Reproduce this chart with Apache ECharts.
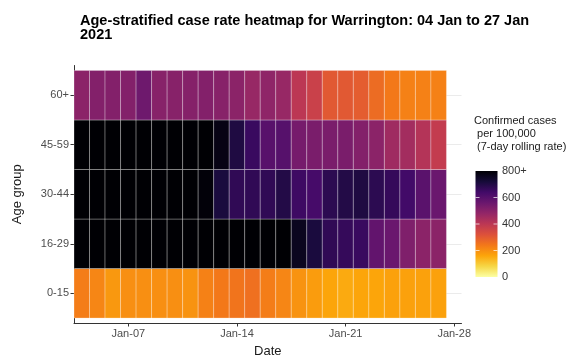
<!DOCTYPE html>
<html>
<head>
<meta charset="utf-8">
<script src="https://cdn.jsdelivr.net/npm/echarts@6/dist/echarts.min.js"></script>
<style>
html,body{margin:0;padding:0;background:#fff;}
#chart{width:571px;height:363px;}
</style>
</head>
<body>
<div id="chart"></div>
<script>
// Day of January 2021 for each column
var days = [4,5,6,7,8,9,10,11,12,13,14,15,16,17,18,19,20,21,22,23,24,25,26,27];
// Age groups, bottom to top
var ageGroups = ['0-15','16-29','30-44','45-59','60+'];
// 7-day rolling case rate per 100,000 (800 = "800+", shown black)
var rate0_15  = [232,216,184,200,200,200,200,192,224,240,248,256,232,216,192,176,160,152,160,160,168,168,168,168];
var rate16_29 = [800,800,800,800,800,800,800,800,800,800,800,800,800,800,760,712,672,664,656,576,560,520,496,496];
var rate30_44 = [800,800,800,800,800,800,800,800,792,712,672,672,672,696,648,632,680,696,704,680,664,640,592,560];
var rate45_59 = [800,800,800,800,800,800,800,800,800,776,704,656,596,600,536,528,528,528,512,496,456,448,416,384];
var rate60p   = [496,512,512,512,552,504,504,508,512,504,496,472,488,472,400,368,304,304,296,264,240,224,224,224];
// x-axis ticks
var tickDays = [7,14,21,28];
var tickLabels = ['Jan-07','Jan-14','Jan-21','Jan-28'];
// legend
var legendTicks = [0,200,400,600,800];
var legendLabels = ['0','200','400','600','800+'];
var scaleMax = 800;

var inferno = ['#000004','#160b39','#420a68','#6a176e','#932667','#bc3754','#dd513a','#f37819','#fca50a','#f6d746','#fcffa4'];
var colorsLowToHigh = inferno.slice().reverse();

var rows = [rate0_15, rate16_29, rate30_44, rate45_59, rate60p];
var data = [];
rows.forEach(function(arr, gi){
  arr.forEach(function(v, di){
    data.push([days[di], gi + 1, Math.min(v, scaleMax)]);
  });
});

var chart = echarts.init(document.getElementById('chart'), null, {renderer:'canvas'});

var FONT = '"Liberation Sans", Arial, sans-serif';
// legend geometry
var barX = 475.5, barY = 171, barW = 22, barH = 106;
var stops = inferno.map(function(c, i){ return {offset: i/(inferno.length-1), color: c}; });
var legendEls = [
  {type:'text', left: 474, top: 114, style:{text:'Confirmed cases\n per 100,000\n (7-day rolling rate)', font:'11px ' + FONT, fill:'#1a1a1a', lineHeight:13}},
  {type:'rect', shape:{x:barX, y:barY, width:barW, height:barH}, style:{fill:{type:'linear', x:0, y:0, x2:0, y2:1, colorStops:stops}}}
];
legendTicks.forEach(function(t, i){
  var y = barY + barH - t / scaleMax * barH;
  if (t > 0 && t < scaleMax) {
    legendEls.push({type:'line', shape:{x1:barX, y1:y, x2:barX+4, y2:y}, style:{stroke:'rgba(255,255,255,0.7)', lineWidth:1}});
    legendEls.push({type:'line', shape:{x1:barX+barW-4, y1:y, x2:barX+barW, y2:y}, style:{stroke:'rgba(255,255,255,0.7)', lineWidth:1}});
  }
  legendEls.push({type:'text', x: 502, y: y, style:{text: legendLabels[i], font:'11px ' + FONT, fill:'#333', verticalAlign:'middle', align:'left'}});
});

var option = {
  backgroundColor: '#fff',
  animation: false,
  title: {
    text: 'Age-stratified case rate heatmap for Warrington: 04 Jan to 27 Jan\n2021',
    left: 75, top: 9.5,
    textStyle: {fontFamily: FONT, fontSize: 14.5, fontWeight: 'bold', color:'#000', lineHeight: 13.5}
  },
  grid: {left: 74, right: 109.5, top: 65.5, bottom: 36.3, containLabel: false},
  xAxis: {
    type: 'value', min: 3.5, max: 28.47,
    name: 'Date', nameLocation: 'middle', nameGap: 22,
    nameTextStyle: {fontFamily: FONT, fontSize: 13, color:'#1a1a1a', verticalAlign:'top'},
    axisLine: {show: true, lineStyle: {color:'#333', width: 1}},
    axisTick: {show: true, customValues: tickDays, length: 3.5, lineStyle:{color:'#333'}},
    axisLabel: {customValues: tickDays, margin: 5, fontFamily: FONT, fontSize: 11, color:'#4d4d4d',
      formatter: function(v){ var i = tickDays.indexOf(Math.round(v)); return i >= 0 ? tickLabels[i] : ''; }},
    splitLine: {show: false}
  },
  yAxis: {
    type: 'value', min: 0.4, max: 5.6,
    name: 'Age group', nameLocation: 'middle', nameGap: 50, nameRotate: 90,
    nameTextStyle: {fontFamily: FONT, fontSize: 13, color:'#1a1a1a'},
    axisLine: {show: true, lineStyle: {color:'#333', width: 1}},
    axisTick: {show: true, customValues: [1,2,3,4,5], length: 3.5, lineStyle:{color:'#333'}},
    axisLabel: {customValues: [1,2,3,4,5], margin: 5, fontFamily: FONT, fontSize: 11, color:'#4d4d4d',
      formatter: function(v){ return ageGroups[Math.round(v) - 1] || ''; }},
    splitLine: {show: true, lineStyle: {color:'#ebebeb', width: 1}}
  },
  visualMap: {
    type: 'continuous', show: false, min: 0, max: scaleMax, dimension: 2, seriesIndex: 0,
    inRange: {color: colorsLowToHigh}
  },
  series: [{
    type: 'custom',
    encode: {x: 0, y: 1},
    data: data,
    renderItem: function(params, api){
      var x = api.value(0), y = api.value(1);
      var p0 = api.coord([x - 0.5, y + 0.5]);
      var p1 = api.coord([x + 0.5, y - 0.5]);
      return {
        type: 'rect',
        shape: {x: p0[0], y: p0[1], width: p1[0] - p0[0], height: p1[1] - p0[1]},
        style: {fill: api.visual('color'), stroke: 'rgba(255,255,255,0.35)', lineWidth: 0.8}
      };
    }
  }],
  graphic: legendEls
};
chart.setOption(option);
</script>
</body>
</html>
